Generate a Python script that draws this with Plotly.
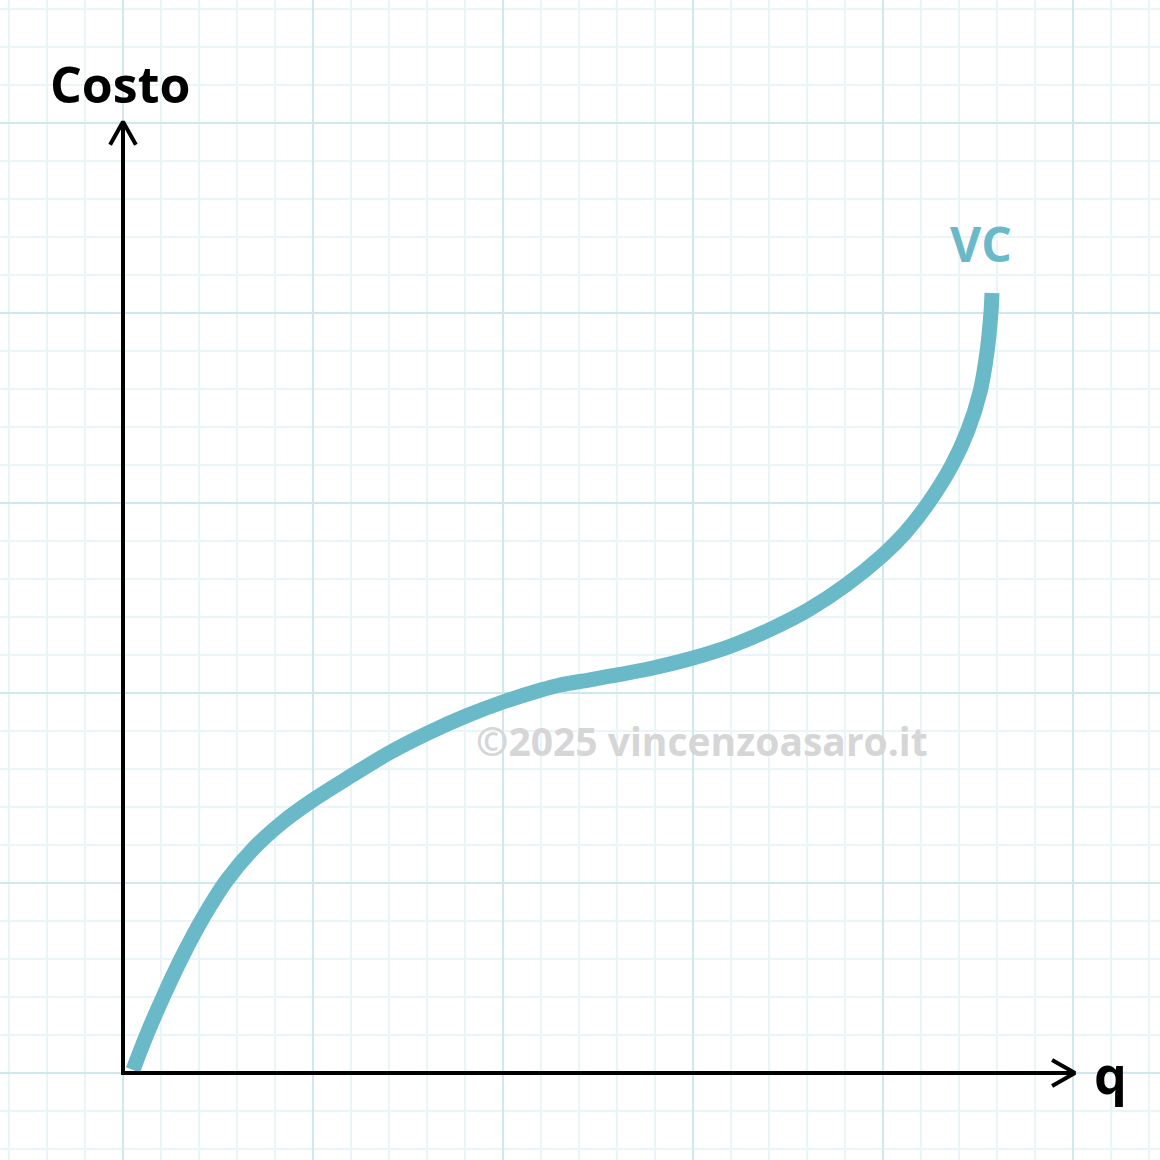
import plotly.graph_objects as go

# ---- data (grid units: 1 unit = one minor grid cell) ----
q_values = [0.263, 0.632, 1.079, 1.579, 2.132, 2.737, 3.474, 4.237, 5.0, 6.0,
            7.0, 8.026, 9.026, 10.0, 11.0, 11.5, 12.026, 13.079, 14.0, 15.0,
            16.0, 17.0, 18.026, 19.026, 20.0, 20.579, 21.158, 21.816, 22.237,
            22.553, 22.737, 22.842, 22.868]
vc_values = [0.079, 1.026, 2.053, 3.105, 4.132, 5.079, 5.947, 6.632, 7.184, 7.816,
             8.421, 8.947, 9.395, 9.763, 10.079, 10.211, 10.303, 10.487, 10.671,
             10.921, 11.237, 11.658, 12.184, 12.842, 13.632, 14.211, 14.947,
             16.0, 16.921, 17.921, 18.974, 20.026, 20.526]
curve_label = "VC"
x_label = "q"
y_label = "Costo"
watermark = "©2025 vincenzoasaro.it"

# ---- styling ----
CURVE_COLOR = "#69b9c9"
MAJOR_GRID = "#cfe8ee"
MINOR_GRID = "#eaf5f7"
X_RANGE = [-123 / 38, (1160 - 123) / 38]
Y_RANGE = [(1073 - 1160) / 38, 1073 / 38]
X_END = 25.05
Y_END = 25.03
ARROW_L = 0.6
ARROW_W = 0.34

fig = go.Figure()

fig.add_trace(go.Scatter(
    x=q_values, y=vc_values, mode="lines",
    line=dict(color=CURVE_COLOR, width=15, shape="spline", smoothing=1.0, simplify=False),
    hoverinfo="skip", showlegend=False,
))

# axes with open chevron arrowheads
ax_style = dict(color="black", width=4)
fig.add_trace(go.Scatter(x=[0, 0], y=[-0.05, Y_END], mode="lines", line=ax_style,
                         showlegend=False, hoverinfo="skip"))
fig.add_trace(go.Scatter(x=[-0.05, X_END], y=[0, 0], mode="lines", line=ax_style,
                         showlegend=False, hoverinfo="skip"))
fig.add_trace(go.Scatter(x=[-ARROW_W, 0, ARROW_W], y=[Y_END - ARROW_L, Y_END, Y_END - ARROW_L],
                         mode="lines", line=ax_style, showlegend=False, hoverinfo="skip"))
fig.add_trace(go.Scatter(x=[X_END - ARROW_L, X_END, X_END - ARROW_L], y=[ARROW_W, 0, -ARROW_W],
                         mode="lines", line=ax_style, showlegend=False, hoverinfo="skip"))

fig.add_annotation(x=-0.08, y=26.03, text=y_label, showarrow=False,
                   xanchor="center", yanchor="middle",
                   font=dict(family="Open Sans", size=50, color="black", weight="bold"))
fig.add_annotation(x=25.5, y=-0.02, text=x_label, showarrow=False,
                   xanchor="left", yanchor="middle",
                   font=dict(family="Open Sans", size=52, color="black", weight="bold"))
fig.add_annotation(x=q_values[-1] - 0.28, y=vc_values[-1] + 1.3, text=curve_label, showarrow=False,
                   xanchor="center", yanchor="middle",
                   font=dict(family="Open Sans", size=48, color=CURVE_COLOR, weight="bold"))
fig.add_annotation(x=(702 - 123) / 38, y=(1073 - 740) / 38, text=watermark, showarrow=False,
                   xanchor="center", yanchor="middle",
                   font=dict(family="Open Sans", size=39, color="#d6d6d6", weight="bold"))

axis_common = dict(
    showticklabels=False, ticks="", zeroline=False, showline=False,
    showgrid=True, gridcolor=MAJOR_GRID, gridwidth=2, tick0=0, dtick=5,
    minor=dict(dtick=1, tick0=0, showgrid=True, gridcolor=MINOR_GRID, gridwidth=1.5),
    fixedrange=True,
)
fig.update_layout(
    width=1160, height=1160,
    margin=dict(l=0, r=0, t=0, b=0),
    paper_bgcolor="white", plot_bgcolor="white",
    xaxis=dict(range=X_RANGE, **axis_common),
    yaxis=dict(range=Y_RANGE, **axis_common),
    showlegend=False,
)

fig.write_html("out.html", config={"displayModeBar": False},
               post_script="document.body.style.margin='0';document.body.style.overflow='hidden';")
